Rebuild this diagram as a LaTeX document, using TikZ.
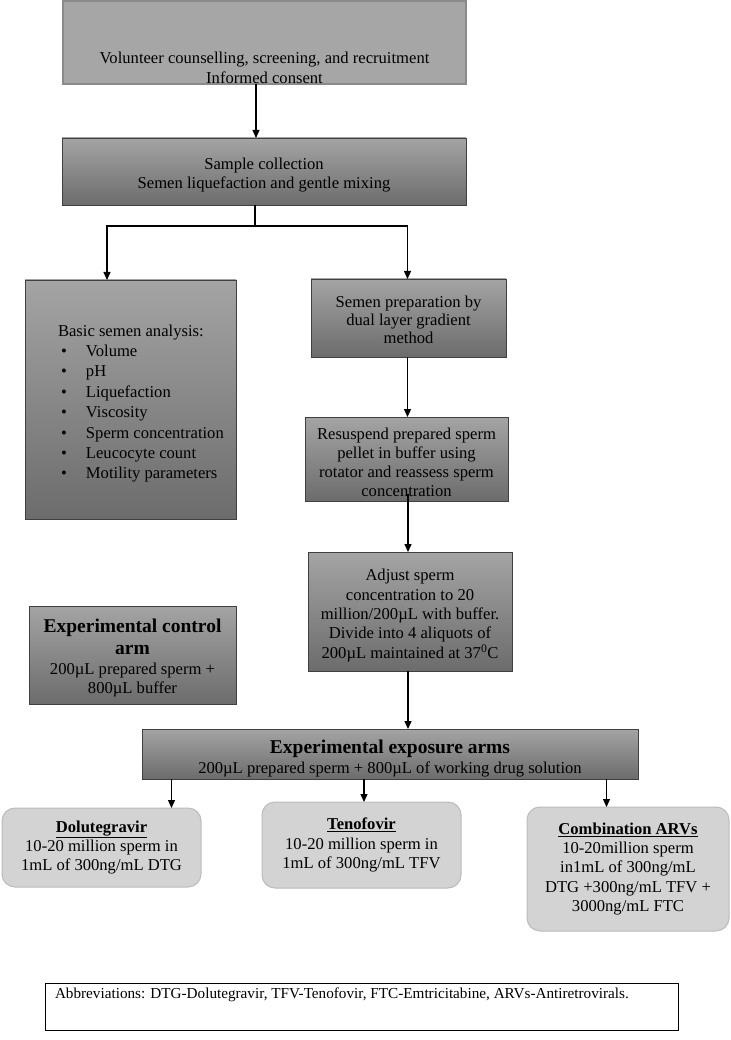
\documentclass[tikz,border=0pt]{standalone}
\usepackage{fontspec}
\setmainfont{Liberation Serif}
\usetikzlibrary{arrows.meta}
\definecolor{gTop}{HTML}{A4A4A4}
\definecolor{gBot}{HTML}{6C6C6C}
\definecolor{flatG}{HTML}{A6A6A6}
\definecolor{flatB}{HTML}{8A8A8A}
\definecolor{boxB}{HTML}{404040}
\definecolor{rndF}{HTML}{D3D3D3}
\definecolor{rndB}{HTML}{BBBBBB}
\newcommand{\bodyfont}{\fontsize{16.6}{19.4}\selectfont}
\newcommand{\headfont}{\fontsize{19.5}{22}\selectfont\bfseries}
\newcommand{\abbrfont}{\fontsize{15.2}{18}\selectfont}
\newcommand{\bul}{\makebox[28pt][l]{\hspace{3pt}\textbullet}}
\newcommand{\lift}[1]{\rule{0pt}{#1}}
\begin{document}
\begin{tikzpicture}[x=1pt,y=-1pt,
  every node/.style={font=\bodyfont, inner sep=0pt, outer sep=0pt, align=center},
  shbox/.style={draw=boxB, line width=0.9pt, top color=gTop, bottom color=gBot, anchor=north west},
  flatbox/.style={draw=flatB, line width=1.3pt, fill=flatG, anchor=north west},
  rndbox/.style={draw=rndB, line width=1pt, fill=rndF, rounded corners=13pt, anchor=north west},
  abbrbox/.style={draw=black, line width=1pt, fill=white, anchor=north west},
  arr/.style={line width=1.2pt, -{Triangle[length=8pt,width=7pt]}},
  ln/.style={line width=1.2pt}
]
\useasboundingbox (0,0) rectangle (730,1040);

% boxes
\node[flatbox, minimum width=403pt, minimum height=83pt] (top) at (63,1) {};
\node[anchor=base] (topt) at (264.5,64) {Volunteer counselling, screening, and recruitment};
\node[anchor=base] (topt2) at (264.5,84) {Informed consent};

\node[shbox, minimum width=404pt, minimum height=67pt] (samp) at (62,138)
  {\lift{18.5pt}Sample collection\\Semen liquefaction and gentle mixing};

\node[shbox, minimum width=211pt, minimum height=239pt] (basic) at (25,280) {};
\node[anchor=west, align=left, font=\fontsize{16.6}{20.4}\selectfont] (basict) at (58,403.5)
  {Basic semen analysis:\\
   \bul Volume\\
   \bul pH\\
   \bul Liquefaction\\
   \bul Viscosity\\
   \bul Sperm concentration\\
   \bul Leucocyte count\\
   \bul Motility parameters};

\node[shbox, minimum width=195pt, minimum height=78pt, font=\fontsize{16.6}{18.2}\selectfont] (prep) at (311,279)
  {\lift{15.5pt}Semen preparation by\\dual layer gradient\\method};

\node[shbox, minimum width=203pt, minimum height=84pt, font=\fontsize{16.6}{19}\selectfont] (res) at (305,417)
  {\lift{17.5pt}Resuspend prepared sperm\\pellet in buffer using\\rotator and reassess sperm\\concentration};

\node[shbox, minimum width=204pt, minimum height=119pt] (adj) at (308,552)
  {\lift{19.5pt}Adjust sperm\\concentration to 20\\million/200µL with buffer.\\Divide into 4 aliquots of\\200µL maintained at 37\textsuperscript{0}C};

\node[shbox, minimum width=207pt, minimum height=98pt] (ctrl) at (29,606)
  {\lift{19.8pt}{\headfont Experimental control}\\[2.6pt]{\headfont arm}\\[0.6pt]200µL prepared sperm +\\800µL buffer};

\node[shbox, minimum width=496pt, minimum height=50pt] (expo) at (142,729)
  {\lift{23.5pt}{\headfont Experimental exposure arms}\\[0.6pt]200µL prepared sperm + 800µL of working drug solution};

\node[rndbox, minimum width=199pt, minimum height=79pt] (dol) at (2,808)
  {\underline{\textbf{Dolutegravir}}\\10-20 million sperm in\\1mL of 300ng/mL DTG};

\node[rndbox, minimum width=199pt, minimum height=86pt] (ten) at (262,802)
  {\underline{\textbf{Tenofovir}}\\10-20 million sperm in\\1mL of 300ng/mL TFV};

\node[rndbox, minimum width=202pt, minimum height=124pt] (comb) at (527,807)
  {\underline{\textbf{Combination ARVs}}\\10-20million sperm\\in1mL of 300ng/mL\\DTG +300ng/mL TFV +\\3000ng/mL FTC};

\node[abbrbox, minimum width=633pt, minimum height=47pt] (abbr) at (45,983) {};
\node[anchor=base west, font=\abbrfont] (abbrt) at (55,998)
  {Abbreviations: DTG-Dolutegravir, TFV-Tenofovir, FTC-Emtricitabine, ARVs-Antiretrovirals.};

% x positions for connectors
\coordinate (x1) at (256,0);
\coordinate (x2) at (255,0);
\coordinate (xl) at (107,0);
\coordinate (xr) at (407.5,0);
\coordinate (xa) at (408,0);
\coordinate (xd) at (171.5,0);
\coordinate (xt) at (364,0);
\coordinate (xc) at (606.5,0);
\coordinate (split) at (255,226);

% connectors
\draw[arr] (top.south -| x1) -- (samp.north -| x1);
\draw[ln] (samp.south -| x2) -- (split);
\draw[arr] (split) -| (basic.north -| xl);
\draw[arr] (split) -| (prep.north -| xr);
\draw[arr] (prep.south -| xr) -- (res.north -| xr);
\draw[arr] ([yshift=7pt]res.south -| xa) -- (adj.north -| xa);
\draw[arr] (adj.south -| xa) -- (expo.north -| xa);
\draw[arr] (expo.south -| xd) -- (dol.north -| xd);
\draw[arr] (expo.south -| xt) -- (ten.north -| xt);
\draw[arr] (expo.south -| xc) -- (comb.north -| xc);
\end{tikzpicture}
\end{document}
